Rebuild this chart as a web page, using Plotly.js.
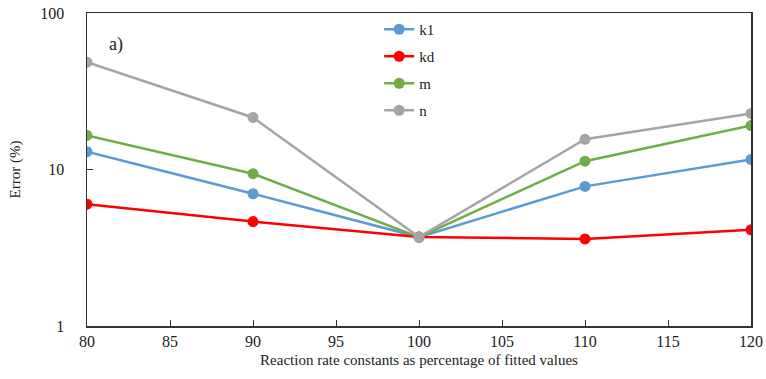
<!DOCTYPE html>
<html>
<head>
<meta charset="utf-8">
<script src="https://cdn.plot.ly/plotly-3.0.1.min.js"></script>
<style>html,body{margin:0;padding:0;background:#fff;}#chart{width:766px;height:379px;}</style>
</head>
<body>
<div id="chart"></div>
<script>
const xValues = [80, 90, 100, 110, 120];
const seriesNames = ["k1", "kd", "m", "n"];
const k1 = [13.0, 7.0, 3.7, 7.8, 11.6];
const kd = [6.0, 4.65, 3.7, 3.6, 4.12];
const m = [16.5, 9.4, 3.7, 11.3, 19.1];
const n = [48.5, 21.5, 3.7, 15.6, 22.8];
const colors = ["#5B9BD5", "#FF0000", "#70AD47", "#A5A5A5"];
const yTickVals = [1, 10, 100];
const yTickText = ["1", "10", "100"];

const allSeries = [k1, kd, m, n];
const traces = allSeries.map((ys, i) => ({
  x: xValues,
  y: ys,
  name: seriesNames[i],
  legendgroup: seriesNames[i],
  type: "scatter",
  mode: "lines+markers",
  line: {color: colors[i], width: 2.5},
  marker: {color: colors[i], size: 11}
}));

const serif = "Times New Roman, DejaVu Serif, serif";
const layout = {
  width: 766, height: 379,
  margin: {l: 87, r: 15, t: 13, b: 53},
  paper_bgcolor: "#fff", plot_bgcolor: "#fff",
  showlegend: true,
  legend: {
    x: 0.44, y: 1.0, xanchor: "left", yanchor: "top",
    font: {family: serif, size: 15, color: "#222"},
    traceorder: "grouped", tracegroupgap: 4.5,
    bgcolor: "rgba(0,0,0,0)"
  },
  xaxis: {
    range: [80, 120], dtick: 5, tick0: 80,
    ticks: "inside", ticklen: 6, tickcolor: "#333",
    showline: true, linecolor: "#333", linewidth: 1.5, mirror: true,
    showgrid: false, zeroline: false,
    tickfont: {family: serif, size: 16, color: "#222"},
    title: {text: "Reaction rate constants as percentage of fitted values", font: {family: serif, size: 15, color: "#222"}, standoff: 6}
  },
  yaxis: {
    type: "log", range: [0, 2],
    tickvals: yTickVals, ticktext: yTickText,
    ticks: "inside", ticklen: 6, tickcolor: "#333",
    showline: true, linecolor: "#333", linewidth: 1.5, mirror: true,
    showgrid: false, zeroline: false,
    ticklabelstandoff: 18,
    tickfont: {family: serif, size: 16, color: "#222"},
    title: {text: "Error (%)", font: {family: serif, size: 15, color: "#222"}, standoff: 16}
  },
  annotations: [{
    text: "a)", xref: "paper", yref: "paper", x: 0.03, y: 0.90,
    xanchor: "left", yanchor: "middle", showarrow: false,
    font: {family: serif, size: 18, color: "#222"}
  }]
};

Plotly.newPlot("chart", traces, layout, {displayModeBar: false, staticPlot: true});
</script>
</body>
</html>
